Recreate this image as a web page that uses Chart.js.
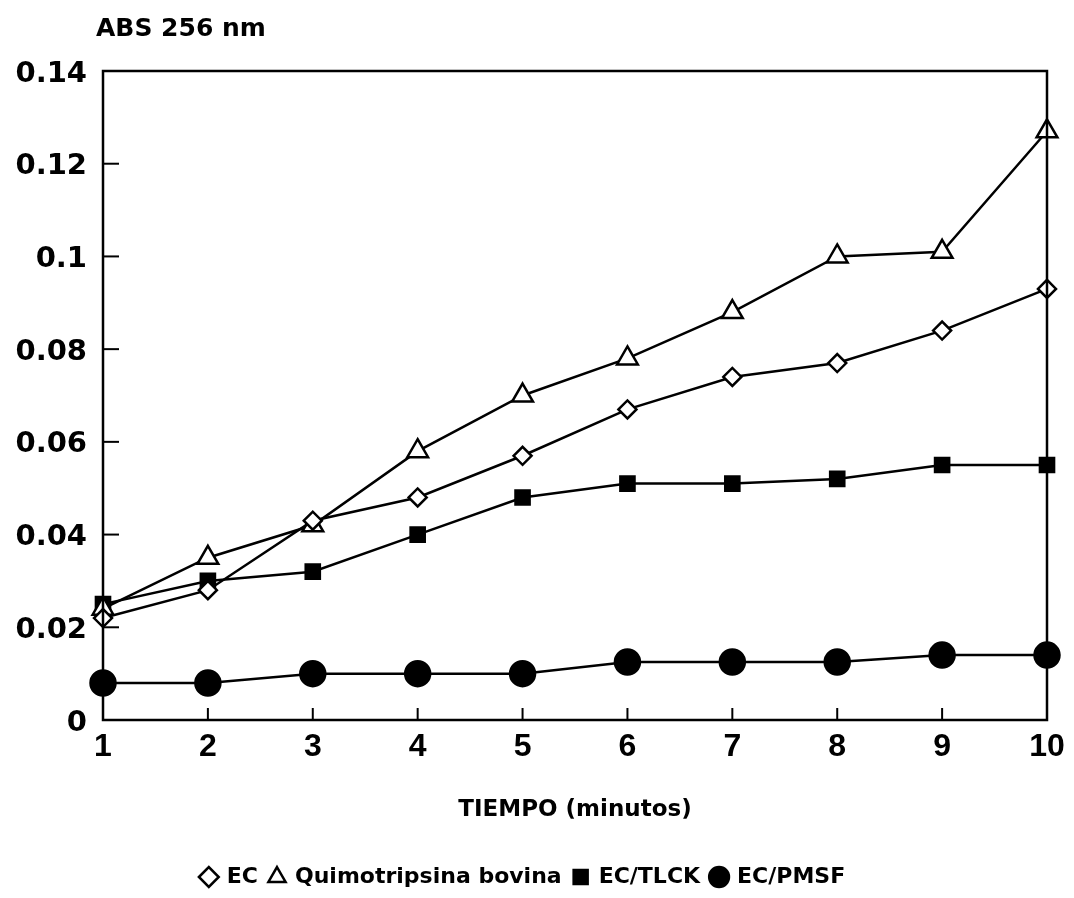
<!DOCTYPE html>
<html>
<head>
<meta charset="utf-8">
<script src="https://cdn.jsdelivr.net/npm/chart.js@4.4.1/dist/chart.umd.min.js"></script>
<style>
  html, body { margin: 0; padding: 0; background: #fff; }
  #wrap { width: 1074px; height: 898px; position: relative; }
</style>
</head>
<body>
<div id="wrap"><canvas id="c" width="1074" height="898"></canvas></div>
<script>
const categories = ['1','2','3','4','5','6','7','8','9','10'];
const ec      = [0.022, 0.028, 0.043, 0.048, 0.057, 0.067, 0.074, 0.077, 0.084, 0.093];
const quimo   = [0.024, 0.035, 0.042, 0.058, 0.070, 0.078, 0.088, 0.100, 0.101, 0.127];
const ecTlck  = [0.025, 0.030, 0.032, 0.040, 0.048, 0.051, 0.051, 0.052, 0.055, 0.055];
const ecPmsf  = [0.008, 0.008, 0.010, 0.010, 0.010, 0.0125, 0.0125, 0.0125, 0.014, 0.014];
const seriesNames = ['EC', 'Quimotripsina bovina', 'EC/TLCK', 'EC/PMSF'];
const yTitle = 'ABS 256 nm';
const xTitle = 'TIEMPO (minutos)';

const WIDE = "'DejaVu Sans', sans-serif";
const NARROW = "'Liberation Sans', Arial, sans-serif";

const framePlugin = {
  id: 'frame',
  afterDraw(chart) {
    const {ctx, chartArea: a, scales} = chart;
    ctx.save();
    ctx.strokeStyle = '#000';
    ctx.lineWidth = 2.5;
    ctx.strokeRect(a.left, a.top, a.right - a.left, a.bottom - a.top);
    ctx.lineWidth = 2;
    scales.y.ticks.forEach(t => {
      if (t.value <= 0 || t.value >= 0.14) return;
      const y = scales.y.getPixelForValue(t.value);
      ctx.beginPath(); ctx.moveTo(a.left, y); ctx.lineTo(a.left + 16, y); ctx.stroke();
    });
    for (let i = 1; i < categories.length - 1; i++) {
      const x = scales.x.getPixelForValue(i);
      ctx.beginPath(); ctx.moveTo(x, a.bottom); ctx.lineTo(x, a.bottom - 12); ctx.stroke();
    }
    ctx.fillStyle = '#000';
    ctx.font = "bold 25px " + WIDE;
    ctx.textAlign = 'left';
    ctx.textBaseline = 'middle';
    ctx.fillText(yTitle, 96, 29);
    ctx.restore();
  }
};

const common = { borderColor: '#000', borderWidth: 2.5, pointBorderColor: '#000', pointBorderWidth: 2.5, tension: 0, clip: false };

new Chart(document.getElementById('c'), {
  type: 'line',
  data: {
    labels: categories,
    datasets: [
      Object.assign({ label: seriesNames[0], data: ec, pointStyle: 'rectRot', pointRadius: 9, pointBackgroundColor: '#fff', backgroundColor: '#fff' }, common),
      Object.assign({ label: seriesNames[1], data: quimo, pointStyle: 'triangle', pointRadius: 12, pointBackgroundColor: '#fff', backgroundColor: '#fff' }, common),
      Object.assign({ label: seriesNames[2], data: ecTlck, pointStyle: 'rect', pointRadius: 10, pointBackgroundColor: '#000', backgroundColor: '#000' }, common),
      Object.assign({ label: seriesNames[3], data: ecPmsf, pointStyle: 'circle', pointRadius: 12.5, pointBackgroundColor: '#000', backgroundColor: '#000' }, common)
    ]
  },
  options: {
    responsive: false,
    animation: false,
    layout: { padding: { left: 0, top: 71, right: 27, bottom: 0 } },
    plugins: {
      tooltip: { enabled: false },
      legend: {
        position: 'bottom',
        labels: {
          usePointStyle: true,
          color: '#000',
          font: { family: WIDE, size: 22, weight: 'bold' },
          padding: 12,
          boxWidth: 14,
          boxHeight: 14
        }
      }
    },
    scales: {
      x: {
        type: 'category',
        offset: false,
        grid: { display: false, drawTicks: false },
        border: { display: false },
        ticks: { color: '#000', font: { family: NARROW, size: 32, weight: 'bold' }, padding: 8, maxRotation: 0, autoSkip: false },
        title: { display: true, text: xTitle, color: '#000', font: { family: WIDE, size: 23, weight: 'bold' }, padding: { top: 20, bottom: 30 } },
        afterFit(s) { s.height = 134; }
      },
      y: {
        min: 0, max: 0.14,
        grid: { display: false, drawTicks: false },
        border: { display: false },
        ticks: {
          stepSize: 0.02, color: '#000', padding: 16, labelOffset: 3,
          font: { family: WIDE, size: 29, weight: 'bold' },
          callback: v => String(Number(v.toFixed(2)))
        },
        afterFit(s) { s.width = 103; }
      }
    }
  },
  plugins: [framePlugin]
});
</script>
</body>
</html>
